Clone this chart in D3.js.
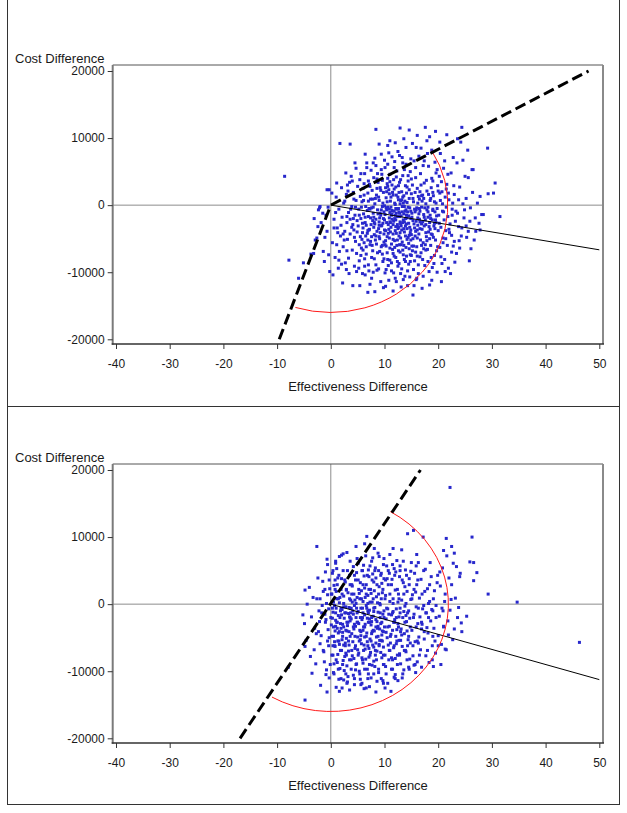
<!DOCTYPE html>
<html><head><meta charset="utf-8">
<script src="https://cdn.jsdelivr.net/npm/d3@7"></script>
<style>body{margin:0;background:#fff;} svg{display:block;} text{font-family:"Liberation Sans",Arial,sans-serif;fill:#1a1a1a;} .tick text{font-size:12px !important;}</style>
</head><body><svg id="c" width="627" height="813"></svg>
<script>
const xTicks=[-40,-30,-20,-10,0,10,20,30,40,50];
const yTicks=[-20000,-10000,0,10000,20000];
const xTitle="Effectiveness Difference";
const yTitle="Cost Difference";

const topPoints=[
[-8.6,4300],[-7.8,-8200],[-6.0,-10900],[-5.1,-8600],[-3.2,-7200],[-2.9,-5200],[-2.6,-4900],[-2.3,-700],[-2.0,-200],[-1.4,-6900],[-1.2,-8400],[-0.7,-3900],[-0.4,-7400],[-0.7,2300],[-0.3,2300],[-3.1,-2000],[-1.8,-2600],[-0.9,-1500],[-2.4,-3200],[-1.1,-4800],[-0.5,-300],[-2.1,-400],[-0.2,-9900],[-3.7,-7300],[-1.5,-1200],
[0.3,-5600],[0.6,-2100],[0.8,-7800],[1.0,1200],[1.2,-3400],[1.4,-9400],[1.5,-600],[1.7,9200],[1.8,-4600],[2.0,2600],[2.1,-1800],[2.3,-6200],[2.4,300],[2.6,-3900],[2.7,-8600],[2.9,1600],[3.0,-2600],[3.1,-5100],[3.3,-7900],[3.3,-1100],[3.5,3400],[3.6,9100],[3.6,-4300],[3.8,4300],[3.9,-200],[4.0,-6700],[4.1,-2900],[4.2,1900],[4.3,-3700],[4.4,-9100],[4.5,6300],[4.5,-1500],[4.6,-5400],[4.7,5500],[4.7,700],[4.8,-7200],[4.9,-2300],[5.0,2800],[0.4,-10400],[1.1,3300],[2.2,-11600],[3.4,-10200],[2.8,4800],[3.7,-600],[4.4,-4800],[1.9,-3000],[0.9,-1100],[2.5,-5200],[3.2,2100],[4.0,3600],[1.6,-6900],[2.0,-8800],[4.8,-9900],[3.9,-3300],[4.6,-300],[0.2,1800],[1.3,-4100],[2.6,600],[3.0,-1700],[4.2,-2000],
[5.1,-3100],[5.2,-600],[5.3,-8300],[5.4,3800],[5.5,-4700],[5.5,1300],[5.6,-2000],[5.7,-6400],[5.8,500],[5.9,-10200],[6.0,-3400],[6.0,2500],[6.1,-1300],[6.2,-5600],[6.3,4700],[6.4,-10400],[6.4,-2600],[6.5,-200],[6.6,-7300],[6.7,6300],[6.7,5600],[6.8,-4200],[6.9,1800],[7.0,-1700],[7.0,-8900],[7.1,-3700],[7.2,3100],[7.3,-5900],[7.3,-600],[7.4,900],[7.5,-2900],[7.6,-10900],[7.6,-4700],[7.7,2200],[7.8,-6800],[7.9,-1200],[8.0,4100],[8.0,-3300],[8.1,-8000],[8.2,-12900],[8.2,200],[8.3,-5200],[8.4,5900],[8.4,-2100],[8.5,1500],[8.6,-3900],[8.7,-7100],[8.7,-700],[8.8,3400],[8.9,-9500],[9.0,-2500],[9.0,700],[9.1,-5000],[9.2,2600],[9.3,-1500],[9.3,-11400],[9.4,-6200],[9.5,4600],[9.5,-3000],[9.6,-200],[9.7,-8400],[9.8,1900],[9.9,-4300],[9.9,-1000],[10.0,6700],[5.3,-1500],[5.8,-5100],[6.2,3200],[6.6,-3000],[7.1,-9800],[7.5,5200],[7.8,-2300],[8.1,-4400],[8.6,2500],[9.1,-6900],[9.6,3700],[5.6,-7500],[6.9,-5200],[7.4,-1900],[8.3,1000],[8.9,-3500],[9.4,-700],[6.1,700],[7.2,-3600],[8.5,-5800],[9.8,-2000],[5.9,-2700],[6.8,-800],[7.7,-6000],[8.8,-1300],[9.2,-4100],[9.7,300],[6.3,-9100],[7.9,-10000],[8.4,-8900],[5.4,-12000],[6.5,-4600],[7.0,600],[8.0,-1800],[9.0,-4700],[9.6,-6000],[7.3,2800],[8.7,4700],[6.0,-6700],[9.3,2200],[7.6,-400],[8.2,-2800],[5.7,-300],[9.9,-8000],[10.0,-3700],
[10.1,5600],[10.1,-1400],[10.2,-5300],[10.3,1100],[10.3,-9600],[10.4,-2600],[10.5,3200],[10.5,-7100],[10.6,-300],[10.7,-4200],[10.8,2300],[10.8,-11200],[10.9,-1900],[11.0,4600],[11.0,-6400],[11.1,600],[11.2,-3300],[11.3,-8600],[11.4,7200],[11.4,-800],[11.5,1900],[11.6,-5100],[11.7,-2400],[11.7,3800],[11.8,-7600],[11.9,300],[12.0,-10900],[12.0,-3800],[12.1,2700],[12.2,-1200],[12.3,-6000],[12.3,5100],[12.4,-2900],[12.5,1200],[12.5,-9100],[12.6,-500],[12.7,-4600],[12.8,3400],[12.8,-1700],[12.9,11500],[12.9,-7000],[13.0,700],[13.1,-3100],[13.1,-12200],[13.2,2000],[13.3,-5500],[13.3,-200],[13.4,4400],[13.5,-11100],[13.5,-2200],[13.6,1400],[13.7,-8100],[13.7,-4000],[13.8,-900],[13.9,2900],[14.0,-6300],[14.0,6100],[14.1,-1500],[14.2,400],[14.2,-3500],[14.3,-9800],[14.4,3600],[14.5,-2700],[14.5,-5700],[14.6,1000],[14.7,-400],[14.8,-7400],[14.8,5000],[14.9,-2000],[15.0,-4400],[10.2,-3800],[10.6,2800],[10.9,-4900],[11.3,-1500],[11.6,1500],[11.9,-2000],[12.2,-4200],[12.6,800],[12.9,-2500],[13.2,-3700],[13.6,-1300],[13.9,-4600],[14.3,-1000],[14.6,2300],[10.4,-700],[10.7,-2900],[11.1,-4000],[11.5,-6600],[11.8,-900],[12.1,-3200],[12.4,-5200],[12.7,-1000],[13.0,-4900],[13.4,-2600],[13.8,600],[14.1,-2800],[14.4,-4800],[14.7,-3300],[10.5,500],[10.9,1700],[11.2,-300],[11.6,-2900],[12.0,-1500],[12.3,-600],[12.7,1900],[13.1,-1600],[13.5,300],[13.9,-3100],[14.2,-1900],[14.6,-6500],[10.3,-6100],[11.0,-8200],[11.7,-10100],[12.4,-8400],[13.2,-9500],[13.8,-10600],[14.5,-8800],[10.8,7800],[11.9,6500],[12.5,8000],[13.3,7100],[14.0,8600],[14.9,6900],[10.6,4000],[11.4,3000],[12.2,4200],[13.0,3800],[13.7,5300],[14.4,4400],[10.0,-2200],[11.0,-1100],[12.0,100],[13.0,-2800],[14.0,-700],[15.0,1700],[11.3,-5800],[12.6,-6800],[13.6,-6000],[14.8,-4100],[10.7,-9000],[12.8,-5900],[11.8,2400],[13.4,1200],[12.1,-7800],[14.3,-12000],[10.2,-12100],
[15.1,-1200],[15.2,3000],[15.3,-13400],[15.3,-5000],[15.4,500],[15.5,-2800],[15.6,-8300],[15.7,1900],[15.8,-3900],[15.9,8600],[15.9,-700],[16.0,-6200],[16.1,10400],[16.1,2500],[16.2,-1900],[16.3,-10200],[16.4,-4300],[16.5,900],[16.6,-2500],[16.7,4700],[16.8,-7100],[16.9,-300],[17.0,-3600],[17.1,1500],[17.2,-5600],[17.3,-1400],[17.4,3300],[17.5,-9000],[17.6,11600],[17.6,-2200],[17.7,200],[17.8,-4700],[17.9,2100],[18.0,-6600],[18.1,-1000],[18.2,5800],[18.3,-3200],[18.4,-11900],[18.5,700],[18.6,-2000],[18.7,-7800],[18.8,4000],[18.9,-4400],[19.0,-600],[19.1,1400],[19.2,-8700],[19.3,-2700],[19.4,6400],[19.5,-5200],[19.6,300],[19.7,-1600],[19.8,-10000],[19.9,2900],[20.0,-3800],[15.2,-6800],[15.6,-3400],[16.0,-400],[16.3,1300],[16.7,-5200],[17.1,-8100],[17.4,-1800],[17.8,3700],[18.2,-4000],[18.6,-6000],[19.0,1900],[19.4,-3500],[19.8,-500],[15.4,-9600],[15.8,4100],[16.2,-3000],[16.6,-900],[17.0,600],[17.3,-6500],[17.7,-2900],[18.1,-300],[18.5,-1500],[18.9,-9300],[19.3,500],[19.7,-6800],[15.5,6600],[16.4,7300],[17.2,5900],[18.0,7700],[18.8,8200],[19.6,4800],[15.1,-1800],[15.7,-4600],[16.5,-2100],[17.5,-400],[18.4,-2600],[19.2,-3100],[15.9,-11100],[17.0,-12400],[18.3,-9900],[16.9,-6000],[16.1,-7600],[18.7,2600],[17.9,-5300],[19.1,-4800],[15.0,-7500],[19.5,-2200],[16.8,3000],[18.6,1000],
[20.1,-1500],[20.2,4300],[20.3,-6300],[20.4,700],[20.5,-3300],[20.6,-11400],[20.7,2000],[20.8,-900],[20.9,-4900],[21.0,5500],[21.1,-2200],[21.2,-8100],[21.3,1200],[21.4,-3800],[21.5,-300],[21.6,3100],[21.7,-6000],[21.8,-1700],[21.9,-9400],[22.0,800],[22.2,-2800],[22.4,4800],[22.5,-4500],[22.6,-600],[22.8,7100],[22.8,-6100],[23.0,1600],[23.2,-2400],[23.4,-7200],[23.5,6300],[23.6,-1200],[23.8,-3200],[24.0,2700],[24.2,9400],[24.3,-4600],[24.4,11600],[24.4,-3400],[24.6,200],[24.8,-1900],[25.0,4300],[20.3,1800],[20.9,-5600],[21.5,2400],[22.1,-4100],[22.7,300],[23.3,-900],[23.9,-5300],[21.2,6600],[20.5,-7700],[22.3,-10200],
[25.3,-4800],[25.6,4100],[25.6,-3900],[25.9,-2400],[26.1,-6500],[26.3,5300],[26.5,5300],[26.9,-1900],[27.0,-3900],[27.8,1300],[27.8,-3700],[28.1,-1400],[28.4,-1400],[29.2,8500],[29.3,1700],[30.3,1800],[30.6,3300],[31.5,-1700],[26.0,-400],[25.2,1000],[27.3,300],[25.8,-8300],
[9.2,-1200],[9.7,-2700],[10.3,-400],[10.8,-3600],[11.2,1200],[11.6,-4300],[12.1,-2200],[12.5,-3500],[12.9,200],[13.3,-1000],[13.7,-2500],[14.1,1800],[14.5,-1600],[14.9,-5200],[15.3,-2300],[15.7,-1000],[16.1,-3700],[16.5,-500],[16.9,-2800],[17.3,1000],[17.7,-4100],[18.1,-1800],[18.5,-3600],[6.4,-1800],[6.9,-3800],[7.4,-5400],[7.9,-300],[8.4,-4600],[8.9,1200],[9.4,-3100],[9.9,-5500],[10.4,2000],[10.9,-600],[11.4,-2100],[11.9,-5300],[12.4,-1700],[12.9,-4100],[13.4,-6700],[13.9,-2000],[14.4,-300],[14.9,-3700],[15.4,-6100],[15.9,-2400],[16.4,-1300],[16.9,1400],[17.4,-3100],[17.9,-700],[18.4,-5000],[18.9,-2200],[19.4,-1000],[10.1,-5900],[10.6,-8100],[11.1,-2600],[11.6,-7200],[12.1,-500],[12.6,-3300],[13.1,-5900],[13.6,-3500],[14.1,-7600],[14.6,-4500],[15.1,-6100],[15.6,-600],[16.1,-4900],[16.6,-7700],[17.1,-2500],[17.6,-5900],[18.1,-8400],[6.6,-6200],[7.1,-500],[7.6,-7800],[8.1,-2600],[8.6,-9700],[9.1,-1900],[9.6,-7300],[10.1,-10100],[11.3,-9800],[12.2,-11400],[13.0,-10200],[13.9,-8400],[14.7,-10700],[15.5,-12000],[16.3,-8900],[17.2,-10600],[6.2,1500],[7.0,3600],[7.8,900],[8.6,3900],[9.4,5300],[10.2,2600],[11.0,3500],[11.8,5600],[12.6,2900],[13.4,6300],[14.2,2700],[15.0,3900],[15.8,5600],[16.6,2000],[17.4,6600],[18.2,1600],[19.0,3600],[19.8,5300],[20.6,3500],[12.0,9300],[13.6,9900],[15.2,9200],[16.8,8500],[11.0,9600],[14.6,11200],[9.4,7600],[8.2,7000],[10.6,6100],[12.8,7400],[17.9,9600],[20.4,7700],[21.4,-5000],[21.0,-1000],[20.2,-2700],[22.0,-3600],[22.6,-1500],[23.0,-5400],[20.8,200],[21.9,1800],[19.9,-6200],[19.3,-7500],[20.7,-8700],[18.8,-11200],[9.8,-12300],[11.6,-12800],[7.3,-11800],[6.9,-13000],[5.2,-9400],[4.1,-12000],[3.0,-6800],[2.3,-4300],[1.5,-8200],[0.6,-3400],[1.1,-5900],[2.9,-9600],[3.6,-2100],[4.9,-4000],[5.3,-5900],[5.9,-4100],[6.3,-8000],[4.3,900],[3.1,3000],[5.6,4700],[6.4,7600],[7.9,6300],[9.0,9100],[8.4,11300],[10.6,8900],[11.4,-1300],[12.8,-1200],[13.7,-200],[14.9,-900],[16.2,300],[15.3,1000],[13.2,800],[12.2,1500],[11.0,-2500],[10.0,-100],[9.0,-3000],[14.2,-5100],[15.8,-7000],[17.7,-6700],[16.6,-3500],[18.7,-4300],[19.6,-2600],[13.5,-7400],[11.9,-6300],[10.5,-4700],[12.7,-8700],[14.8,-8400],[16.0,-10900],[19.0,-800],[20.0,2100],[21.8,4600],[22.9,2900],[23.8,800],[24.9,-700],[26.4,1900],[27.6,-2700],[26.7,-5200],[24.0,-6400],[25.2,-3100],[23.1,-8500],[22.5,-7000],[21.3,-9900],[24.6,6700],[25.5,8200],[23.6,9900],[21.6,10500],[20.3,9400],[19.5,11000],[18.4,10200]
];

const bottomPoints=[
[-7.9,-9400],[-4.8,-14300],[-4.9,-2900],[-4.6,-5400],[-3.5,-10300],[-2.6,8600],[-4.8,2100],[-4.0,2500],[-4.4,0],[-2.6,800],[-5.2,-1600],[-4.8,-6300],[-0.7,6700],[-0.7,-13100],[-3.8,-7800],[-3.0,-3600],[-2.2,-1000],[-1.8,-4700],[-1.5,3400],[-1.2,-8600],[-0.9,-2300],[-0.6,1400],[-0.4,-6200],[-0.3,-11000],[-2.8,-8900],[-1.0,4800],[-3.3,1000],[-2.0,-5900],[-1.6,-200],[-0.5,-3800],[-2.4,3900],[-1.3,-7100],[-0.8,-9800],[-3.6,-1900],[-0.2,2300],[-1.9,-12100],[-0.4,-700],[-2.7,-4400],[-1.1,-1500],[-3.1,-6800],[-0.6,5900],[-1.4,1900],[-2.1,-2600],[-0.3,-5000],[-0.9,-10500],
[0.1,-3100],[0.2,1500],[0.2,-7600],[0.3,4600],[0.4,-1200],[0.5,-10200],[0.5,-4800],[0.6,2800],[0.7,-200],[0.8,-6300],[0.9,6100],[0.9,-2400],[1.0,-12400],[1.1,800],[1.2,-8700],[1.2,-3600],[1.3,3900],[1.4,-1700],[1.5,-5500],[1.6,7100],[1.6,200],[1.7,-9600],[1.8,-2900],[1.9,2200],[2.0,7300],[2.0,-6900],[2.1,-800],[2.2,-4200],[2.3,5000],[2.4,-11300],[2.4,1200],[2.5,-2100],[2.6,-7800],[2.7,3300],[2.8,-400],[2.9,-5100],[3.0,7700],[3.0,-9200],[3.1,-3200],[3.2,1700],[3.3,-1400],[3.4,-6100],[3.5,4300],[3.5,-12800],[3.6,-2500],[3.7,600],[3.8,-8300],[3.9,-4400],[4.0,2700],[4.1,-1000],[4.2,-10600],[4.2,5600],[4.3,-3700],[4.4,-200],[4.5,-6600],[4.6,3600],[4.7,8600],[4.7,-2000],[4.8,-8900],[4.9,1000],[5.0,-4900],
[0.3,-2100],[0.7,-5600],[1.0,-600],[1.4,-4300],[1.8,-1000],[2.2,-3000],[2.6,-1300],[3.0,-4000],[3.4,-500],[3.8,-2200],[4.2,-1500],[4.6,-3300],[0.5,300],[0.9,-3300],[1.3,-7500],[1.7,1000],[2.1,-5300],[2.5,-9900],[2.9,2100],[3.3,-7000],[3.7,-1300],[4.1,-5600],[4.5,600],[4.9,-2700],[0.6,-8900],[1.1,5300],[1.5,-11200],[2.0,3800],[2.4,-6100],[2.8,-3900],[3.2,-10800],[3.6,2900],[4.0,-7700],[4.4,-12000],[4.8,4700],[0.4,-6200],[0.8,3600],[1.2,-2700],[1.6,-6000],[2.0,-1600],[2.4,-400],[2.8,-7300],[3.2,-2700],[3.6,-4800],[4.0,300],[4.4,-3000],[4.8,-600],[1.9,-3600],[2.7,-5800],[3.5,-1900],[4.3,-8100],[1.0,1900],[3.9,1500],[2.3,-8400],[0.8,-4000],[4.6,-9800],[3.1,-11600],[1.6,-13000],
[5.1,-1100],[5.1,6100],[5.2,-7300],[5.3,1600],[5.4,-3900],[5.5,-11200],[5.5,3200],[5.6,-600],[5.7,-5900],[5.8,-2300],[5.9,5000],[6.0,-8800],[6.0,400],[6.1,-3400],[6.2,-12600],[6.3,2400],[6.3,-1600],[6.4,-6700],[6.5,7200],[6.6,-200],[6.7,-4300],[6.7,10100],[6.8,-9700],[6.9,1300],[7.0,-2700],[7.1,4100],[7.1,-7900],[7.2,-900],[7.3,-5200],[7.4,2200],[7.5,-11000],[7.5,-3100],[7.6,6400],[7.7,300],[7.8,-6100],[7.9,-1800],[8.0,3300],[8.0,-8500],[8.1,-4000],[8.2,-500],[8.3,5400],[8.4,-13100],[8.4,-2300],[8.5,1100],[8.6,-7000],[8.7,-3600],[8.8,7600],[8.8,-1200],[8.9,-10200],[9.0,2600],[9.1,-5400],[9.2,-100],[9.3,-2900],[9.4,4600],[9.5,-8000],[9.5,-4600],[9.6,1700],[9.7,-1500],[9.8,-6400],[9.9,3800],[10.0,-3400],
[5.2,-2900],[5.6,-4700],[6.0,-1300],[6.4,-3000],[6.8,-5600],[7.2,-2200],[7.6,-4400],[8.0,-1100],[8.4,-5800],[8.8,-3300],[9.2,-2000],[9.6,-4000],[5.4,800],[5.8,-8000],[6.2,-6100],[6.6,2900],[7.0,-10400],[7.4,-7200],[7.8,4500],[8.2,-9300],[8.6,-2600],[9.0,-6000],[9.4,800],[9.8,-9000],[5.3,-10000],[5.7,2000],[6.1,5800],[6.5,-8200],[6.9,-1000],[7.3,300],[7.7,-9100],[8.1,2000],[8.5,-4900],[8.9,5000],[9.3,-7200],[9.7,-11400],[5.5,-5300],[5.9,-2000],[6.3,-4900],[6.7,-600],[7.1,-6600],[7.5,1600],[7.9,-3900],[8.3,-7600],[8.7,200],[9.1,-3700],[9.5,3100],[9.9,-1000],[6.2,4200],[7.8,6900],[9.0,7100],[5.6,-12000],[7.2,-12300],[8.6,-11500],[6.8,-2100],[8.0,-6400],[6.4,1000],[7.6,-2600],[9.4,-5400],[5.0,-6800],[7.0,5100],[8.4,3900],[6.0,-3900],[9.8,5900],
[10.1,-7600],[10.2,1300],[10.3,-2200],[10.4,5700],[10.5,-5000],[10.6,-11800],[10.6,-700],[10.7,2900],[10.8,-8300],[10.9,-3300],[11.0,7400],[11.0,400],[11.1,-5800],[11.2,-13000],[11.3,-1600],[11.4,3700],[11.5,-9700],[11.5,-3900],[11.6,800],[11.7,-6500],[11.8,5300],[11.9,-2300],[12.0,-10500],[12.0,2100],[12.1,-4800],[12.2,-700],[12.3,6500],[12.4,-7600],[12.5,-11400],[12.5,-2900],[12.6,1500],[12.7,-5400],[12.8,4100],[12.9,-1300],[13.0,-8900],[13.1,-3700],[13.2,8100],[13.2,600],[13.3,-6300],[13.4,-2000],[13.5,3200],[13.6,-9800],[13.7,-4400],[13.8,-300],[13.9,5100],[14.0,-7100],[14.1,-2600],[14.2,1900],[14.3,10500],[14.4,-5300],[14.5,-1000],[14.6,3800],[14.7,-8200],[14.8,-3400],[14.9,700],[15.0,6200],
[10.3,-4200],[10.8,-1500],[11.2,-4500],[11.7,-2700],[12.2,-5900],[12.7,-1900],[13.2,-4600],[13.7,-6900],[14.2,-4000],[14.7,-2100],[10.5,3800],[11.0,-6900],[11.5,5900],[12.0,-8100],[12.5,300],[13.0,-5400],[13.5,6400],[14.0,-1700],[14.5,-9400],[10.2,-9300],[11.8,-10900],[13.3,-11000],[14.8,-5800],[10.9,4600],[12.3,-3800],[13.8,2600],[11.3,-8000],[12.8,-7400],[14.3,-6200],[10.7,-6100],[12.1,4800],[13.6,-1100],[11.6,-1100],[14.9,4900],
[15.1,-3900],[15.2,1400],[15.3,-7700],[15.4,11000],[15.5,-1500],[15.6,4600],[15.7,-5600],[15.8,-10200],[15.9,-400],[16.0,2900],[16.1,-8600],[16.2,-2900],[16.3,6200],[16.4,-4900],[16.5,900],[16.6,-1900],[16.7,-6800],[16.8,3700],[16.9,-9400],[17.0,-3000],[17.2,10000],[17.3,-200],[17.4,-5200],[17.6,5200],[17.7,-7700],[17.8,-1300],[18.0,2300],[18.1,-4300],[18.3,-8700],[18.4,400],[18.6,-2500],[18.7,4100],[18.9,-6200],[19.0,-1000],[19.2,-3600],[19.3,2000],[19.5,-7300],[19.6,-200],[19.8,3200],[20.0,-4700],[15.5,-9100],[16.3,-5800],[17.1,-700],[17.9,-3500],[18.8,-800],[19.4,-5500],[16.0,7400],[17.5,1900],[18.5,6200],[19.1,-9300],[15.8,1800],[16.9,-3700],[18.2,-2000],
[20.2,-1800],[20.4,2700],[20.6,-6000],[20.8,5400],[21.0,-3300],[21.2,400],[21.3,-6700],[21.5,-6800],[21.6,7200],[21.8,-2500],[22.0,3900],[22.2,17400],[22.2,-900],[22.5,2900],[22.7,-5300],[22.8,6100],[23.0,-3700],[23.2,900],[23.4,5600],[23.6,-2000],[24.0,4100],[24.1,4600],[24.3,-2800],[24.4,-4100],[22.5,8600],[21.5,9800],[20.5,-9000],[21.0,8000],[21.9,-4600],[23.0,7600],[20.9,-1000],[22.4,700],[23.8,-500],[20.3,4800],
[25.9,6300],[26.3,10000],[26.6,6200],[26.6,3500],[29.3,1500],[34.7,300],[46.3,-5700],[25.3,-1800],[27.2,4700],
[0.4,5000],[3.1,5000],[5.8,5000],[8.2,5000],[10.7,5000],[12.9,5000],[17.3,5000],
[1.5,4300],[4.4,4300],[6.8,4300],[9.3,4300],[11.9,4300],[14.1,4300],[19.9,4300],
[-0.3,3600],[2.6,3600],[5.1,3600],[7.7,3600],[10.2,3600],[13.3,3600],[16.2,3600],
[1.2,2900],[3.9,2900],[6.0,2900],[8.6,2900],[11.3,2900],[14.6,2900],[18.4,2900],
[-1.1,2200],[0.8,2200],[2.9,2200],[5.2,2200],[7.1,2200],[9.7,2200],[12.4,2200],[15.5,2200],
[0.1,1500],[2.1,1500],[4.3,1500],[6.6,1500],[8.9,1500],[11.0,1500],[13.6,1500],[17.0,1500],[21.3,1500],
[-2.0,800],[1.4,800],[3.5,800],[5.7,800],[7.9,800],[10.1,800],[12.7,800],[15.1,800],[19.1,800],
[-0.8,100],[2.4,100],[4.7,100],[6.9,100],[9.1,100],[11.6,100],[14.0,100],[18.2,100],
[0.3,-600],[1.9,-600],[3.8,-600],[5.9,-600],[8.0,-600],[10.4,-600],[12.9,-600],[16.3,-600],[20.7,-600],
[-1.7,-1300],[0.9,-1300],[2.8,-1300],[4.9,-1300],[7.0,-1300],[9.2,-1300],[11.5,-1300],[14.3,-1300],[17.7,-1300],
[0.0,-2000],[1.7,-2000],[3.6,-2000],[5.5,-2000],[7.6,-2000],[9.9,-2000],[12.2,-2000],[15.4,-2000],[19.6,-2000],
[-1.0,-2700],[1.1,-2700],[3.0,-2700],[5.0,-2700],[7.2,-2700],[9.5,-2700],[11.9,-2700],[13.8,-2700],[16.9,-2700],
[0.5,-3400],[2.4,-3400],[4.2,-3400],[6.3,-3400],[8.4,-3400],[10.6,-3400],[12.6,-3400],[15.9,-3400],[21.0,-3400],
[-2.3,-4100],[1.6,-4100],[3.4,-4100],[5.6,-4100],[7.7,-4100],[9.8,-4100],[13.0,-4100],[17.4,-4100],
[0.2,-4800],[2.2,-4800],[4.5,-4800],[6.6,-4800],[8.8,-4800],[11.1,-4800],[14.5,-4800],[19.0,-4800],
[-0.6,-5500],[1.3,-5500],[3.3,-5500],[5.3,-5500],[7.5,-5500],[9.6,-5500],[12.3,-5500],[16.1,-5500],
[0.7,-6200],[2.7,-6200],[4.6,-6200],[6.9,-6200],[9.0,-6200],[11.8,-6200],[15.3,-6200],[20.0,-6200],
[-1.4,-6900],[1.8,-6900],[3.9,-6900],[6.1,-6900],[8.3,-6900],[10.9,-6900],[13.9,-6900],[18.0,-6900],
[0.4,-7600],[2.9,-7600],[5.1,-7600],[7.3,-7600],[9.8,-7600],[12.8,-7600],[16.5,-7600],
[1.0,-8300],[3.5,-8300],[5.9,-8300],[8.5,-8300],[11.5,-8300],[14.2,-8300],[18.9,-8300],
[-0.1,-9000],[2.2,-9000],[4.7,-9000],[7.2,-9000],[9.9,-9000],[12.4,-9000],[15.7,-9000],
[1.4,-9700],[3.8,-9700],[6.3,-9700],[8.9,-9700],[11.3,-9700],[14.6,-9700],
[0.6,-10400],[2.8,-10400],[5.4,-10400],[8.0,-10400],[10.3,-10400],[13.4,-10400],
[1.9,-11100],[4.4,-11100],[6.9,-11100],[9.4,-11100],[12.0,-11100],
[3.0,-11800],[5.8,-11800],[9.8,-11800],[2.1,-12500],[6.6,-12500],[10.1,-12500],
[0.9,6400],[3.6,6400],[7.3,5700],[9.9,6800],[12.9,5700],[15.9,5700],[2.3,7500],[4.9,6800],[8.1,8300],[11.6,8300],[6.3,9000]
];

const topDashed=[[-9.6,-20000],[0,0],[48,20000]];
const bottomDashed=[[-16.9,-20000],[16.7,20000]];
const topSolid=[[0,0],[50,-6660]];
const bottomSolid=[[0,0],[50,-11250]];
// ellipse arc: [x radius, y radius, start angle deg, end angle deg]
const topArc=[21.8,16000,30.5,-107.6];
const bottomArc=[21.9,16000,59.5,-120];

const svg=d3.select("#c");

const frame=svg.append("g").attr("stroke","#333").attr("stroke-width",1).attr("fill","none");
frame.append("line").attr("x1",7.5).attr("x2",7.5).attr("y1",0).attr("y2",805);
frame.append("line").attr("x1",619.5).attr("x2",619.5).attr("y1",0).attr("y2",805);
frame.append("line").attr("x1",7).attr("x2",620).attr("y1",406.5).attr("y2",406.5);
frame.append("line").attr("x1",7).attr("x2",620).attr("y1",804.5).attr("y2",804.5);

function panel(offset,pts,dashed,solid,arc){
  const g=svg.append("g").attr("transform",`translate(0,${offset})`);
  const x=d3.scaleLinear().domain([-40,50]).range([116,599.3]);
  const y=d3.scaleLinear().domain([-20000,20000]).range([339.3,71]);
  const L=112.7,R=603,T=65,B=344;

  g.append("line").attr("x1",x(0)).attr("x2",x(0)).attr("y1",T).attr("y2",B)
    .attr("stroke","#8c8c8c").attr("stroke-width",1);
  g.append("line").attr("x1",L).attr("x2",R).attr("y1",y(0)).attr("y2",y(0))
    .attr("stroke","#8c8c8c").attr("stroke-width",1);

  g.append("g").selectAll("rect").data(pts).join("rect")
    .attr("x",d=>x(d[0])-1.5).attr("y",d=>y(d[1])-1.5)
    .attr("width",3).attr("height",3).attr("fill","#2828cc");

  const line=d3.line().x(d=>x(d[0])).y(d=>y(d[1]));
  g.append("path").attr("d",line(solid)).attr("fill","none").attr("stroke","#000").attr("stroke-width",1);

  const [rx,ry,a0,a1]=arc;
  const kx=x(1)-x(0), ky=y(0)-y(1);
  const r0=a0*Math.PI/180, r1=a1*Math.PI/180;
  const sx=x(rx*Math.cos(r0)), sy=y(ry*Math.sin(r0));
  const ex=x(rx*Math.cos(r1)), ey=y(ry*Math.sin(r1));
  const large=(a0-a1)>180?1:0;
  g.append("path").attr("d",`M${sx},${sy}A${rx*kx},${ry*ky} 0 ${large} 1 ${ex},${ey}`)
    .attr("fill","none").attr("stroke","#ff1a1a").attr("stroke-width",1);

  g.append("path").attr("d",line(dashed)).attr("fill","none").attr("stroke","#000")
    .attr("stroke-width",3).attr("stroke-dasharray","11,5");

  g.append("line").attr("x1",L).attr("x2",R).attr("y1",T).attr("y2",T).attr("stroke","#555").attr("stroke-width",1);
  g.append("line").attr("x1",R).attr("x2",R).attr("y1",T).attr("y2",B).attr("stroke","#8a8a8a").attr("stroke-width",2);
  g.append("line").attr("x1",L).attr("x2",L).attr("y1",T).attr("y2",B+0.7).attr("stroke","#7a7a7a").attr("stroke-width",2);
  g.append("line").attr("x1",L-1).attr("x2",R+1).attr("y1",B).attr("y2",B).attr("stroke","#333").attr("stroke-width",1.5);

  const fmt=d=>String(d);
  const ax=g.append("g").attr("transform",`translate(0,${B})`)
    .call(d3.axisBottom(x).tickValues(xTicks).tickSize(5).tickPadding(10).tickFormat(fmt));
  const ay=g.append("g").attr("transform",`translate(${L},0)`)
    .call(d3.axisLeft(y).tickValues(yTicks).tickSize(5).tickPadding(3).tickFormat(fmt));
  [ax,ay].forEach(a=>{
    a.attr("font-family",null).attr("font-size",null);
    a.select(".domain").remove();
    a.selectAll(".tick line").attr("stroke","#333");
    a.selectAll(".tick text").attr("fill","#1a1a1a");
  });

  g.append("text").attr("x",358).attr("y",386).attr("dy","0.35em").attr("text-anchor","middle")
    .style("font-size","13px").text(xTitle);
  g.append("text").attr("x",15).attr("y",58).attr("dy","0.35em").attr("text-anchor","start")
    .style("font-size","13px").text(yTitle);
}

panel(0,topPoints,topDashed,topSolid,topArc);
panel(399,bottomPoints,bottomDashed,bottomSolid,bottomArc);
</script>
</body></html>
